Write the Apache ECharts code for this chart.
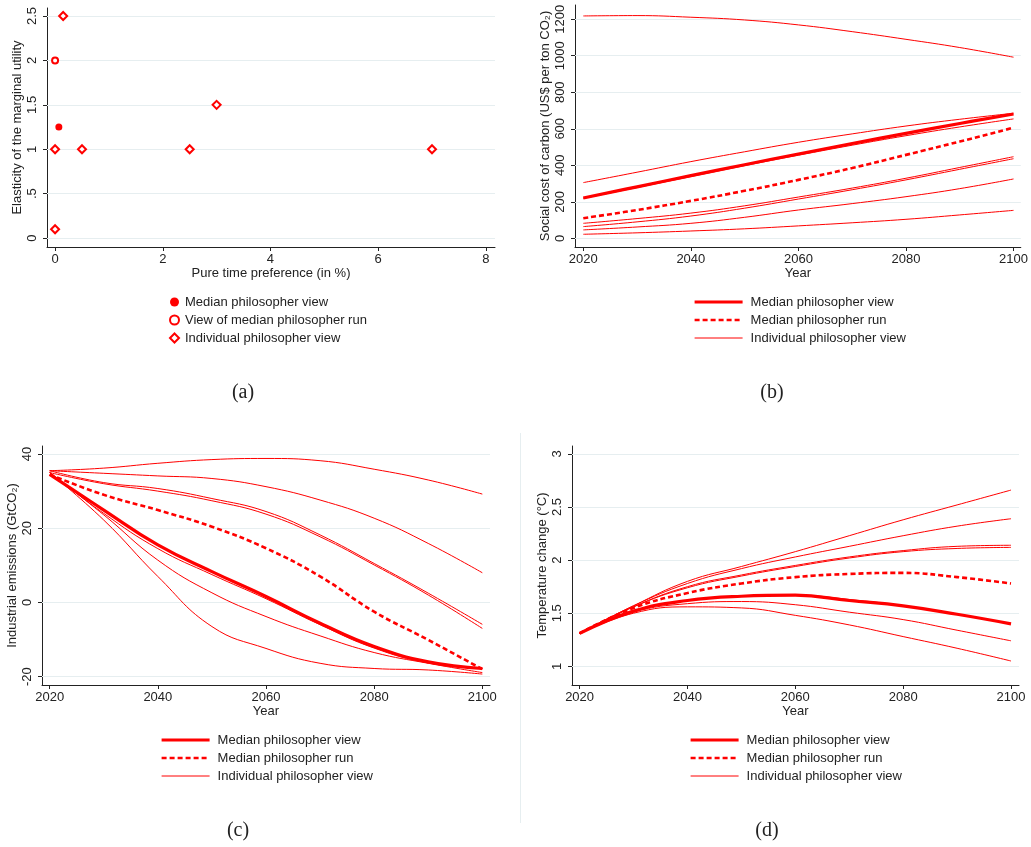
<!DOCTYPE html>
<html>
<head>
<meta charset="utf-8">
<script src="https://cdn.jsdelivr.net/npm/echarts@6/dist/echarts.min.js"></script>
<style>
  html, body { margin: 0; background: #fff; }
  #chart { width: 1031px; height: 847px; }
</style>
</head>
<body>
<div id="chart"></div>
<script>
// panel (a): preferences
const medianView = [[0.07, 1.25]];
const medianRun = [[0, 2]];
const individualPrefs = [[0.15, 2.5], [0, 1], [0.5, 1], [2.5, 1], [3, 1.5], [7, 1], [0, 0.1]];
const prefXTicks = [0, 2, 4, 6, 8];
const prefYTicks = [0, 0.5, 1, 1.5, 2, 2.5];

const years = [2020, 2030, 2040, 2050, 2060, 2070, 2080, 2090, 2100];
const yearTicks = [2020, 2040, 2060, 2080, 2100];

// panel (b): social cost of carbon
const sccMedianView = [221, 282, 343, 403, 462, 519, 575, 629, 681];
const sccMedianRun = [110, 155, 205, 260, 320, 385, 457, 530, 606];
const sccIndividual = [
  [1218, 1220, 1211, 1196, 1169, 1132, 1090, 1045, 992],
  [305, 362, 420, 474, 526, 572, 615, 652, 685],
  [219, 278, 338, 398, 455, 510, 562, 610, 654],
  [82, 108, 138, 178, 226, 275, 329, 388, 447],
  [64, 90, 122, 165, 215, 266, 320, 378, 436],
  [46, 62, 82, 115, 155, 190, 228, 272, 325],
  [22, 30, 40, 52, 68, 85, 104, 128, 153]
];
const sccTicks = [0, 200, 400, 600, 800, 1000, 1200];

// panel (c): industrial emissions
const emMedianView = [34.5, 24.9, 15.5, 8.3, 1.6, -5.6, -11.9, -16, -17.8];
const emMedianRun = [34.5, 29, 24.9, 20.4, 14.6, 7, -2.5, -10.1, -18];
const emIndividual = [
  [35, 22.2, 7, -6.5, -12.4, -16.4, -17.8, -18.2, -19.3],
  [35, 23.6, 11.4, 2.6, -3.8, -9, -13.5, -16.4, -18.9],
  [35, 24, 14.5, 7.5, 1, -6, -12.3, -16.3, -17.8],
  [35.5, 32.3, 30.7, 28, 24.5, 18.2, 10.5, 2.5, -5.9],
  [35, 32, 30, 27.4, 23.8, 17.7, 10.1, 2, -7],
  [35.5, 34.8, 34.1, 33.4, 31.2, 27.6, 22.7, 15.9, 8],
  [35.5, 36.2, 37.5, 38.5, 38.8, 38.2, 35.9, 33, 29.2]
];
const emTicks = [-20, 0, 20, 40];

// panel (d): temperature change
const tempMedianView = [1.31, 1.52, 1.62, 1.66, 1.67, 1.62, 1.57, 1.49, 1.4];
const tempMedianRun = [1.31, 1.55, 1.69, 1.78, 1.84, 1.87, 1.88, 1.84, 1.78];
const tempIndividual = [
  [1.31, 1.5, 1.56, 1.55, 1.48, 1.39, 1.28, 1.17, 1.05],
  [1.31, 1.51, 1.59, 1.61, 1.58, 1.51, 1.44, 1.34, 1.24],
  [1.31, 1.52, 1.62, 1.66, 1.67, 1.63, 1.57, 1.49, 1.4],
  [1.31, 1.56, 1.75, 1.86, 1.95, 2.03, 2.09, 2.13, 2.14],
  [1.31, 1.56, 1.74, 1.85, 1.94, 2.02, 2.08, 2.11, 2.12],
  [1.31, 1.57, 1.78, 1.92, 2.03, 2.13, 2.23, 2.32, 2.39],
  [1.31, 1.57, 1.8, 1.94, 2.08, 2.23, 2.38, 2.52, 2.66]
];
const tempTicks = [1, 1.5, 2, 2.5, 3];

const RED = "#ff0000";
const INK = "#222";
const FONT = "Liberation Sans, Arial, sans-serif";
const GRIDLINE = "#e6eef0";
const W_VIEW = 3.2, W_RUN = 2.6, W_INDIV = 1, DASH = [5, 3];

const chart = echarts.init(document.getElementById("chart"));

const pair = (vals) => vals.map((v, i) => [years[i], v]);

function xAxis(gi, min, max, ticks, name) {
  return {
    type: "value", gridIndex: gi, min, max,
    name, nameLocation: "middle", nameGap: 20,
    nameTextStyle: { color: INK, fontFamily: FONT, fontSize: 13 },
    axisLine: { onZero: false, lineStyle: { color: INK, width: 1 } },
    axisTick: { length: 4, lineStyle: { color: INK }, customValues: ticks },
    axisLabel: { color: INK, fontFamily: FONT, fontSize: 13, margin: 6, customValues: ticks,
                 formatter: (v) => String(v) },
    splitLine: { show: false }
  };
}

function yAxis(gi, min, max, ticks, name, fmt) {
  return {
    type: "value", gridIndex: gi, min, max,
    name, nameLocation: "middle", nameGap: 23.5,
    nameTextStyle: { color: INK, fontFamily: FONT, fontSize: 13 },
    axisLine: { show: true, onZero: false, lineStyle: { color: INK, width: 1 } },
    axisTick: { show: true, length: 4, lineStyle: { color: INK }, customValues: ticks },
    axisLabel: { color: INK, fontFamily: FONT, fontSize: 13, rotate: 90, margin: 8,
                 customValues: ticks, formatter: fmt || ((v) => String(v)) },
    splitLine: { show: false }
  };
}

// light horizontal grid lines at each y tick, kept under the data
function gridLines(gi, ticks) {
  return {
    type: "line", name: "grid" + gi, xAxisIndex: gi, yAxisIndex: gi, data: [], z: 1,
    markLine: {
      silent: true, symbol: "none", z: 1, label: { show: false },
      lineStyle: { color: GRIDLINE, type: "solid", width: 1 },
      data: ticks.map((t) => ({ yAxis: t }))
    }
  };
}

// series names carry a panel prefix so each legend picks its own series
const VIEW = "Median philosopher view";
const RUN = "Median philosopher run";
const INDIV = "Individual philosopher view";

function lineSeries(gi, p, panel) {
  const out = [gridLines(gi, panel.ticks)];
  panel.individual.forEach((vals) => {
    out.push({
      type: "line", name: p + "|" + INDIV, xAxisIndex: gi, yAxisIndex: gi,
      data: pair(vals), smooth: 0.45, symbol: "none", z: 3,
      lineStyle: { color: RED, width: W_INDIV }, itemStyle: { color: RED }
    });
  });
  out.push({
    type: "line", name: p + "|" + RUN, xAxisIndex: gi, yAxisIndex: gi,
    data: pair(panel.run), smooth: 0.45, symbol: "none", z: 4,
    lineStyle: { color: RED, width: W_RUN, type: DASH }, itemStyle: { color: RED }
  });
  out.push({
    type: "line", name: p + "|" + VIEW, xAxisIndex: gi, yAxisIndex: gi,
    data: pair(panel.view), smooth: 0.45, symbol: "none", z: 5,
    lineStyle: { color: RED, width: W_VIEW }, itemStyle: { color: RED }
  });
  return out;
}

const stripPrefix = (n) => n.split("|")[1];

function lineLegend(p, left, top) {
  return {
    orient: "vertical", left, top, padding: 0, itemGap: 4,
    itemWidth: 48, itemHeight: 14, formatter: stripPrefix,
    itemStyle: { opacity: 0 },
    textStyle: { color: INK, fontFamily: FONT, fontSize: 13, lineHeight: 14, padding: [0, 0, 0, 3] },
    data: [
      { name: p + "|" + VIEW, lineStyle: { width: W_VIEW, color: RED } },
      { name: p + "|" + RUN, lineStyle: { width: W_RUN, color: RED, type: DASH } },
      { name: p + "|" + INDIV, lineStyle: { width: W_INDIV, color: RED } }
    ]
  };
}

const prefFmt = (v) => (v === 0 ? "0" : String(v).replace(/^0\./, "."));

chart.setOption({
  animation: false,
  backgroundColor: "#fff",
  grid: [
    { left: 47, top: 8, width: 448, height: 239 },
    { left: 575, top: 5, width: 448, height: 242 },
    { left: 42, top: 446, width: 448, height: 239 },
    { left: 572, top: 446, width: 447, height: 239 }
  ],
  xAxis: [
    xAxis(0, -0.15, 8.17, prefXTicks, "Pure time preference (in %)"),
    xAxis(1, 2018.46, 2101.35, yearTicks, "Year"),
    xAxis(2, 2018.58, 2101.42, yearTicks, "Year"),
    xAxis(3, 2018.59, 2101.48, yearTicks, "Year")
  ],
  yAxis: [
    yAxis(0, -0.1, 2.59, prefYTicks, "Elasticity of the marginal utility", prefFmt),
    yAxis(1, -47.7, 1278, sccTicks, "Social cost of carbon (US$ per ton CO\u2082)"),
    yAxis(2, -22.25, 42.16, emTicks, "Industrial emissions (GtCO\u2082)"),
    yAxis(3, 0.824, 3.075, tempTicks, "Temperature change (\u00b0C)")
  ],
  legend: [
    {
      orient: "vertical", left: 169, top: 295, padding: 0, itemGap: 4,
      itemWidth: 9, itemHeight: 9, formatter: stripPrefix,
      textStyle: { color: INK, fontFamily: FONT, fontSize: 13, lineHeight: 14, padding: [0, 0, 0, 1] },
      data: ["a|" + VIEW, "a|View of median philosopher run", "a|" + INDIV]
    },
    lineLegend("b", 693, 295),
    lineLegend("c", 160, 733),
    lineLegend("d", 689, 733)
  ],
  series: [
    gridLines(0, prefYTicks),
    {
      type: "scatter", name: "a|" + INDIV, xAxisIndex: 0, yAxisIndex: 0,
      data: individualPrefs, symbol: "emptyDiamond", symbolSize: 8, z: 3,
      itemStyle: { color: RED, borderColor: RED, borderWidth: 1.3, opacity: 1 }
    },
    {
      type: "scatter", name: "a|View of median philosopher run", xAxisIndex: 0, yAxisIndex: 0,
      data: medianRun, symbol: "emptyCircle", symbolSize: 6, z: 3,
      itemStyle: { color: RED, borderColor: RED, borderWidth: 1.6, opacity: 1 }
    },
    {
      type: "scatter", name: "a|" + VIEW, xAxisIndex: 0, yAxisIndex: 0,
      data: medianView, symbol: "circle", symbolSize: 7, z: 3,
      itemStyle: { color: RED, opacity: 1 }
    },
    ...lineSeries(1, "b", { ticks: sccTicks, individual: sccIndividual, run: sccMedianRun, view: sccMedianView }),
    ...lineSeries(2, "c", { ticks: emTicks, individual: emIndividual, run: emMedianRun, view: emMedianView }),
    ...lineSeries(3, "d", { ticks: tempTicks, individual: tempIndividual, run: tempMedianRun, view: tempMedianView })
  ],
  graphic: [
    { type: "line", shape: { x1: 520.5, y1: 433, x2: 520.5, y2: 823 }, style: { stroke: "#e6eef0", lineWidth: 1 } },
    { type: "text", x: 243, y: 393, style: { text: "(a)", font: "20px 'Liberation Serif', serif", fill: INK, textAlign: "center", textVerticalAlign: "middle" } },
    { type: "text", x: 772, y: 393, style: { text: "(b)", font: "20px 'Liberation Serif', serif", fill: INK, textAlign: "center", textVerticalAlign: "middle" } },
    { type: "text", x: 238, y: 831, style: { text: "(c)", font: "20px 'Liberation Serif', serif", fill: INK, textAlign: "center", textVerticalAlign: "middle" } },
    { type: "text", x: 767, y: 831, style: { text: "(d)", font: "20px 'Liberation Serif', serif", fill: INK, textAlign: "center", textVerticalAlign: "middle" } }
  ]
});

window.addEventListener("resize", () => chart.resize());
</script>
</body>
</html>
